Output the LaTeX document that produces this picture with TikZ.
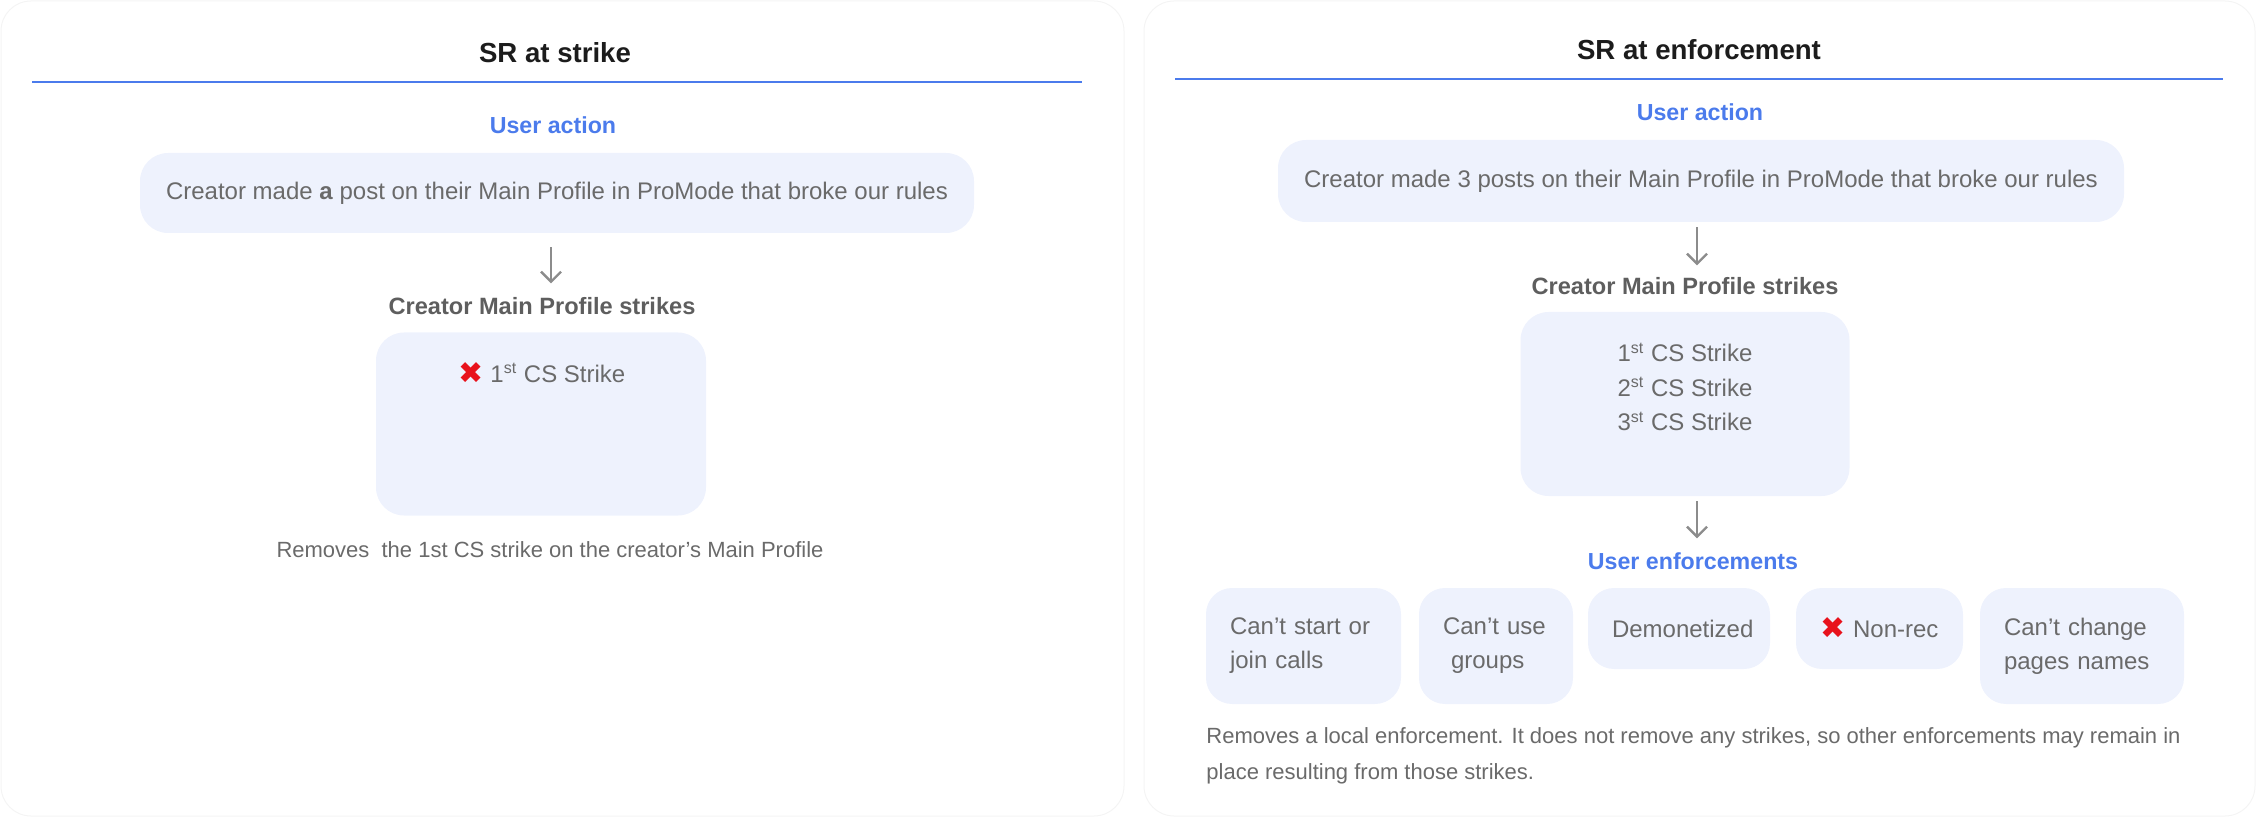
\documentclass[tikz,border=0pt]{standalone}
\usepackage{fontspec}
\setmainfont{Liberation Sans}
\newfontfamily\symfont{DejaVu Sans}
\usetikzlibrary{arrows.meta}
\definecolor{boxfill}{HTML}{EEF2FD}
\definecolor{bluetxt}{HTML}{4B7BEC}
\definecolor{grytxt}{HTML}{6A6A6A}
\definecolor{headgry}{HTML}{5E5E5E}
\definecolor{titleblk}{HTML}{1C1C1C}
\definecolor{arrgry}{HTML}{8C8C8C}
\definecolor{panelln}{HTML}{F4F4F4}
\definecolor{xred}{HTML}{E8121C}
\newcommand{\redx}{{\symfont\color{xred}\fontsize{15}{15}\selectfont\raisebox{-0.5pt}{✖}}}
\begin{document}
\begin{tikzpicture}[x=0.5pt,y=-0.5pt,
  panel/.style={draw=panelln, line width=0.5pt, rounded corners=15pt},
  titletxt/.style={font=\bfseries\fontsize{13.8}{16}\selectfont, text=titleblk, inner sep=0pt},
  bluehead/.style={font=\bfseries\fontsize{11.6}{14}\selectfont, text=bluetxt, inner sep=0pt},
  grayhead/.style={font=\bfseries\fontsize{11.8}{14}\selectfont, text=headgry, inner sep=0pt},
  blueline/.style={draw=bluetxt, line width=1pt},
  bodytxt/.style={font=\fontsize{12}{17.25}\selectfont, text=grytxt},
  bigbox/.style={fill=boxfill, rounded corners=14pt, bodytxt, inner sep=0pt},
  ebox/.style={fill=boxfill, rounded corners=13pt, bodytxt, align=left, inner xsep=12pt, inner ysep=0pt,
    font=\fontsize{12}{17}\selectfont},
  foot/.style={font=\fontsize{11}{18}\selectfont, text=grytxt, inner sep=0pt},
  arr/.style={draw=arrgry, line width=1.2pt, -{Straight Barb[length=5pt,width=10pt,line width=1.2pt]}}
]
\useasboundingbox (0,0) rectangle (2256,818);
% panels
\draw[panel] (1,1) rectangle (1124,816);
\draw[panel] (1144,1) rectangle (2255,816);

% ---------- left panel ----------
\node[titletxt] (t1) at (555,53) {SR at strike};
\draw[blueline] (32,82) -- (1082,82);
\node[bluehead] (ua1) at (553,125) {User action};
\node[bigbox, minimum width=417pt, minimum height=40pt] (b1) at (557,193)
  {Creator made \textbf{a} post on their Main Profile in ProMode that broke our rules};
\node[grayhead] (h1) at (542,306) {Creator Main Profile strikes};
\node[bigbox, minimum width=165pt, minimum height=91.5pt] (s1) at (541,424) {};
\node[bodytxt, inner sep=0pt] (s1t) at (542,373) {\redx\ 1\textsuperscript{st} CS Strike};
\node[foot] (f1) at (550,550) {Removes~ the 1st CS strike on the creator’s Main Profile};
\draw[arr] (b1.south) ++(-6,14) -- ++(0,36);

% ---------- right panel ----------
\node[titletxt] (t2) at (1699,50) {SR at enforcement};
\draw[blueline] (1175,79) -- (2223,79);
\node[bluehead] (ua2) at (1700,112) {User action};
\node[bigbox, minimum width=423pt, minimum height=41pt] (b2) at (1701,181)
  {Creator made 3 posts on their Main Profile in ProMode that broke our rules};
\node[grayhead] (h2) at (1685,286) {Creator Main Profile strikes};
\node[bigbox, minimum width=164.5pt, minimum height=92pt] (s2) at (1685,404) {};
\node[bodytxt, align=center, inner sep=0pt] (s2t) at (1685,387)
  {1\textsuperscript{st} CS Strike\\2\textsuperscript{st} CS Strike\\3\textsuperscript{st} CS Strike};
\draw[arr] (b2.south) ++(-4,5) -- ++(0,38);
\draw[arr] (s2.south) ++(12,5) -- ++(0,37);
\node[bluehead] (ue) at (1693,561) {User enforcements};

\node[ebox, text width=73.5pt, minimum height=58pt] (ea) at (1303.5,646) {Can’t start or\\join calls};
\node[ebox, text width=53pt, minimum height=58pt] (eb) at (1496,646) {Can’t use\\\ groups};
\node[ebox, text width=67pt, minimum height=40.5pt] (ec) at (1679,628.5) {Demonetized};
\node[ebox, text width=59.5pt, minimum height=40.5pt] (ed) at (1879.5,628.5) {\redx\ Non-rec};
\node[ebox, text width=78pt, minimum height=58pt] (ee) at (2082,646) {Can’t change\\pages names};

\node[foot, anchor=west, align=left] (f2) at (1206,756)
  {Removes a local enforcement. It does not remove any strikes, so other enforcements may remain in\\place resulting from those strikes.};
\end{tikzpicture}
\end{document}
